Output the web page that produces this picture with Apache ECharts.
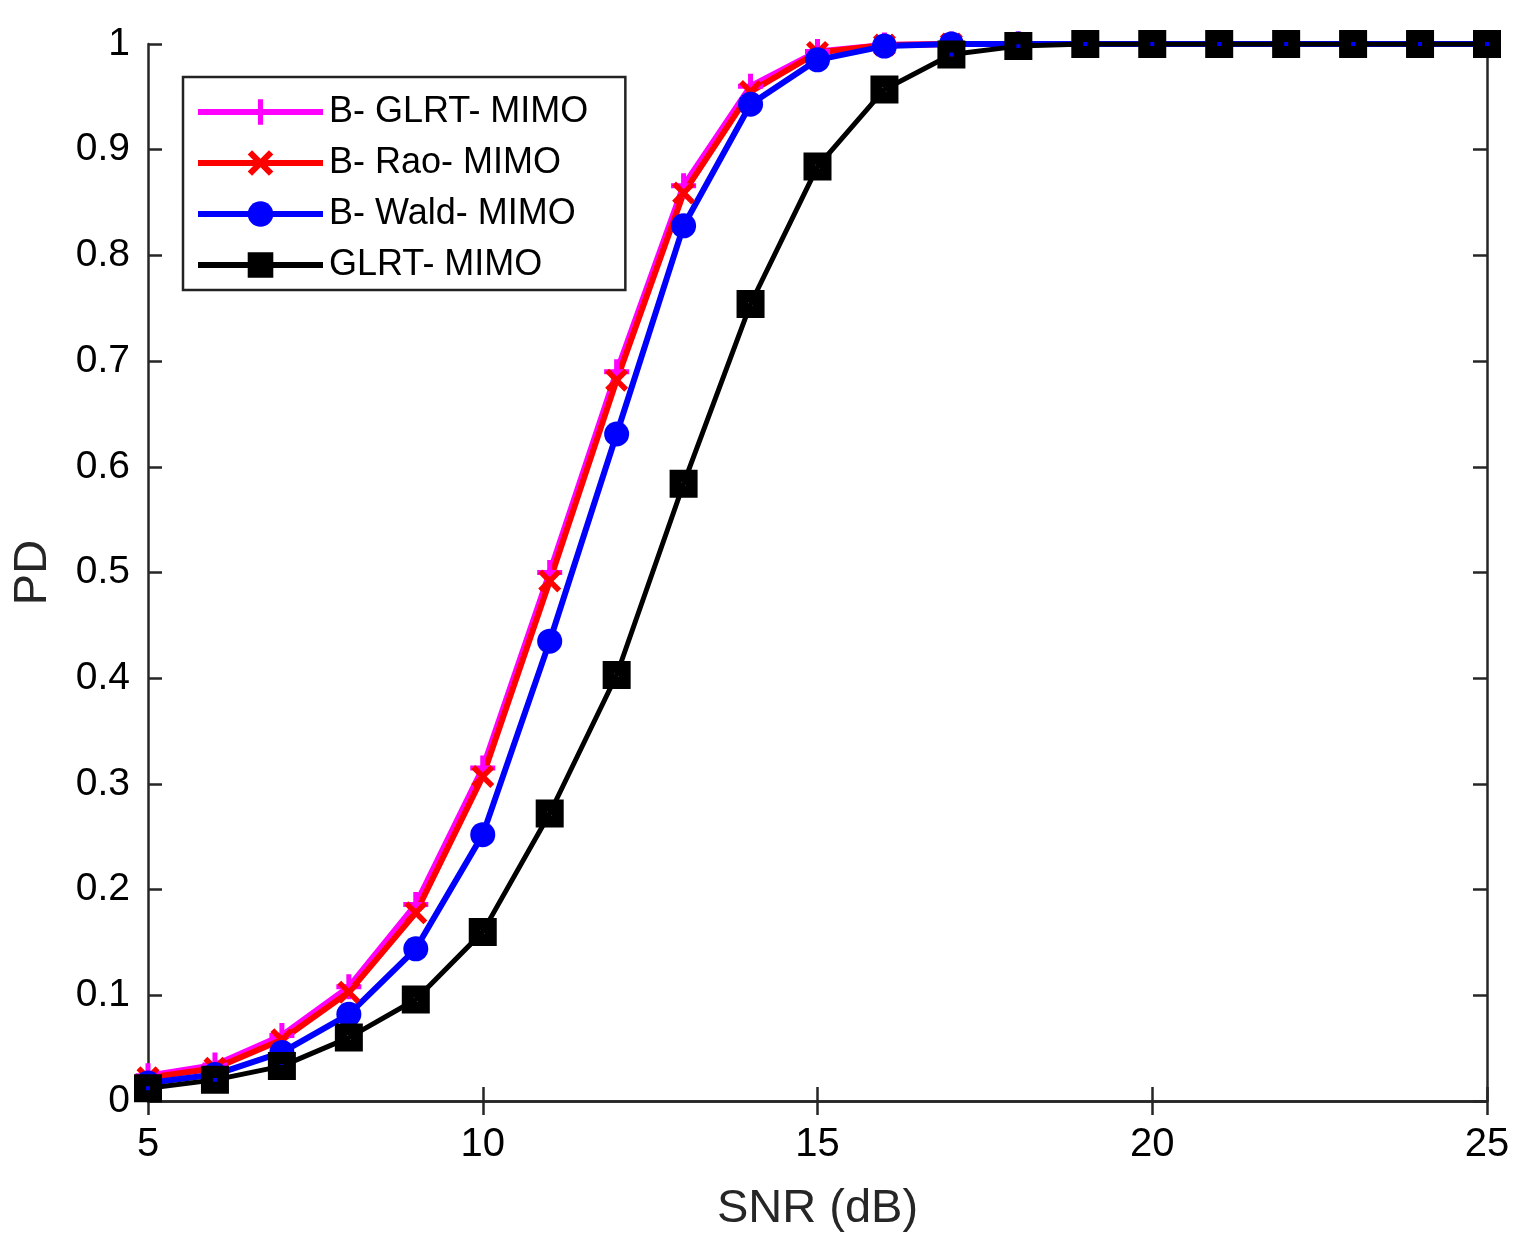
<!DOCTYPE html>
<html>
<head>
<meta charset="utf-8">
<script src="https://cdn.jsdelivr.net/npm/echarts@6/dist/echarts.min.js"></script>
<style>
  html, body { margin: 0; padding: 0; background: #fff; }
  #chart { width: 1530px; height: 1250px; }
</style>
</head>
<body>
<div id="chart"></div>
<script>
// SNR values (dB)
var snr = [5, 6, 7, 8, 9, 10, 11, 12, 13, 14, 15, 16, 17, 18, 19, 20, 21, 22, 23, 24, 25];

// detection probabilities
var bGlrt = [0.024, 0.034, 0.062, 0.108, 0.186, 0.315, 0.500, 0.690, 0.866, 0.960, 0.993, 0.999, 1, 1, 1, 1, 1, 1, 1, 1, 1];
var bRao  = [0.022, 0.031, 0.058, 0.103, 0.178, 0.307, 0.492, 0.682, 0.859, 0.955, 0.992, 0.999, 1, 1, 1, 1, 1, 1, 1, 1, 1];
var bWald = [0.017, 0.025, 0.046, 0.082, 0.144, 0.252, 0.435, 0.631, 0.828, 0.943, 0.985, 0.998, 1, 1, 1, 1, 1, 1, 1, 1, 1];
var glrt  = [0.012, 0.020, 0.033, 0.060, 0.096, 0.160, 0.272, 0.403, 0.584, 0.754, 0.884, 0.957, 0.990, 0.998, 1, 1, 1, 1, 1, 1, 1];

var names = ['B- GLRT- MIMO', 'B- Rao- MIMO', 'B- Wald- MIMO', 'GLRT- MIMO'];

var FONT = 'Liberation Sans, Arial, Helvetica, sans-serif';
var AXIS_COLOR = '#262626';

function pairs(ys) {
    return snr.map(function (x, i) { return [x, ys[i]]; });
}

var plusPath = 'path://M-1,-5 L1,-5 L1,-1 L5,-1 L5,1 L1,1 L1,5 L-1,5 L-1,1 L-5,1 L-5,-1 L-1,-1 Z';
var crossPath = 'path://M-5,-3.3 L-3.3,-5 L0,-1.7 L3.3,-5 L5,-3.3 L1.7,0 L5,3.3 L3.3,5 L0,1.7 L-3.3,5 L-5,3.3 L-1.7,0 Z';
// thick-edged square with a tiny hollow centre
var squarePath = 'path://M-5,-5 L5,-5 L5,5 L-5,5 Z M-0.7,-0.7 L-0.7,0.7 L0.7,0.7 L0.7,-0.7 Z';

function makeSeries(name, ys, color, symbol, size, width) {
    return {
        name: name,
        type: 'line',
        data: pairs(ys),
        symbol: symbol,
        symbolSize: size,
        showAllSymbol: true,
        lineStyle: { color: color, width: width },
        itemStyle: { color: color, borderWidth: 0 },
        emphasis: { disabled: true },
        animation: false
    };
}

var chart = echarts.init(document.getElementById('chart'));

var option = {
    backgroundColor: '#fff',
    animation: false,
    grid: { left: 148, right: 43, top: 44, bottom: 149 },
    legend: {
        orient: 'vertical',
        left: 183,
        top: 77,
        data: names,
        itemWidth: 125,
        itemHeight: 32,
        itemGap: 15,
        padding: [17, 37, 7, 12],
        borderColor: '#222',
        borderWidth: 2.5,
        backgroundColor: '#fff',
        lineStyle: { width: 6 },
        textStyle: { fontFamily: FONT, fontSize: 36, lineHeight: 36, color: '#000', padding: [0, 0, 0, 1] },
        selectedMode: false
    },
    xAxis: [{
        type: 'value',
        min: 5, max: 25, interval: 5,
        name: 'SNR (dB)',
        nameLocation: 'middle',
        nameGap: 85,
        nameTextStyle: { fontFamily: FONT, fontSize: 47, color: AXIS_COLOR },
        axisLine: { lineStyle: { color: AXIS_COLOR, width: 2.5 } },
        axisTick: { inside: true, length: 14, lineStyle: { color: AXIS_COLOR, width: 2.5 } },
        axisLabel: { fontFamily: FONT, fontSize: 40, color: '#000', margin: 24 },
        splitLine: { show: false }
    }, {
        type: 'value',
        position: 'top',
        min: 5, max: 25, interval: 5,
        axisLine: { lineStyle: { color: AXIS_COLOR, width: 2.5 } },
        axisTick: { inside: true, length: 14, lineStyle: { color: AXIS_COLOR, width: 2.5 } },
        axisLabel: { show: false },
        splitLine: { show: false }
    }],
    yAxis: [{
        type: 'value',
        min: 0, max: 1, interval: 0.1,
        name: 'PD',
        nameLocation: 'middle',
        nameGap: 91,
        nameTextStyle: { fontFamily: FONT, fontSize: 47, color: AXIS_COLOR },
        axisLine: { lineStyle: { color: AXIS_COLOR, width: 2.5 } },
        axisTick: { inside: true, length: 14, lineStyle: { color: AXIS_COLOR, width: 2.5 } },
        axisLabel: {
            fontFamily: FONT, fontSize: 39, color: '#000', margin: 18,
            formatter: function (v) { return String(Math.round(v * 10) / 10); }
        },
        splitLine: { show: false }
    }, {
        type: 'value',
        position: 'right',
        min: 0, max: 1, interval: 0.1,
        axisLine: { lineStyle: { color: AXIS_COLOR, width: 2.5 } },
        axisTick: { inside: true, length: 14, lineStyle: { color: AXIS_COLOR, width: 2.5 } },
        axisLabel: { show: false },
        splitLine: { show: false }
    }],
    series: [
        makeSeries(names[0], bGlrt, '#ff00ff', plusPath, 25, 6),
        makeSeries(names[1], bRao, '#ff0000', crossPath, 23, 6),
        makeSeries(names[2], bWald, '#0000ff', 'circle', 25, 6),
        makeSeries(names[3], glrt, '#000000', squarePath, 28, 5)
    ]
};

chart.setOption(option);
</script>
</body>
</html>
